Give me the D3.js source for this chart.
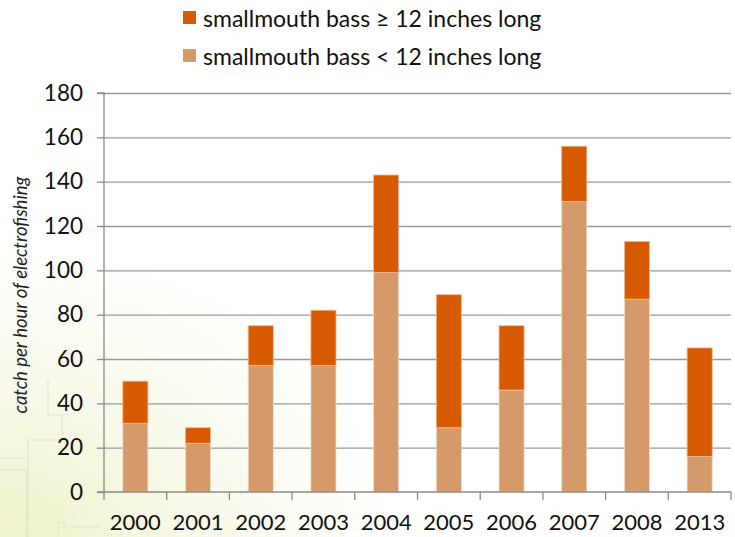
<!DOCTYPE html>
<html><head><meta charset="utf-8">
<script src="https://cdn.jsdelivr.net/npm/d3@7/dist/d3.min.js"></script>
<style>
html,body{margin:0;padding:0;background:#fff;}
svg{display:block;font-family:Lato,"Open Sans",sans-serif;}
</style></head>
<body><svg id="c" width="735" height="537"></svg>
<script>
const years = ["2000","2001","2002","2003","2004","2005","2006","2007","2008","2013"];
const small = [31, 22, 57, 57, 99, 29, 46, 131, 87, 16];
const total = [50, 29, 75, 82, 143, 89, 75, 156, 113, 65];
const large = total.map((t, i) => t - small[i]);
const yTicks = [0, 20, 40, 60, 80, 100, 120, 140, 160, 180];
const seriesNames = ["smallmouth bass \u2265 12 inches long", "smallmouth bass < 12 inches long"];
const colors = {large: "#D75A00", small: "#D59A69"};

const svg = d3.select("#c");
const defs = svg.append("defs");
const rg = defs.append("radialGradient").attr("id","bg").attr("cx","0").attr("cy","1").attr("r","0.55");
rg.append("stop").attr("offset","0").attr("stop-color","#eef2c8");
rg.append("stop").attr("offset","0.5").attr("stop-color","#f8f9ea");
rg.append("stop").attr("offset","1").attr("stop-color","#ffffff");
svg.append("rect").attr("width",735).attr("height",537).attr("fill","url(#bg)");
// faint map outline decoration
svg.append("path").attr("d","M0,458 H28 V440 H62 V415 H48 V380 M0,470 H27 V537 M28,458 V537 M58,537 V522 H64 V527 H100")
  .attr("fill","none").attr("stroke","#e2e6cf").attr("stroke-width",1.2);

const x0 = 104, x1 = 731, yTop = 93, yBot = 492;
const x = d3.scaleBand().domain(years).range([x0, x1]).paddingInner(0.6).paddingOuter(0.3);
const xb = d3.scaleBand().domain(years).range([x0, x1]);
const y = d3.scaleLinear().domain([0, 180]).range([yBot, yTop]);

// gridlines
svg.append("g").selectAll("line").data(yTicks.slice(1)).join("line")
  .attr("x1", x0).attr("x2", x1).attr("y1", d => y(d)+0.5).attr("y2", d => y(d)+0.5)
  .attr("stroke", "#9a9a9a").attr("stroke-width", 1.3);

// bars
const g = svg.append("g");
years.forEach((yr, i) => {
  g.append("rect").attr("x", x(yr)).attr("width", x.bandwidth())
    .attr("y", y(small[i])).attr("height", y(0) - y(small[i]))
    .attr("fill", colors.small).attr("stroke","#f3dccb").attr("stroke-width",0.8);
  g.append("rect").attr("x", x(yr)).attr("width", x.bandwidth())
    .attr("y", y(total[i])).attr("height", y(small[i]) - y(total[i]))
    .attr("fill", colors.large).attr("stroke","#f0b890").attr("stroke-width",0.8);
});

// y axis
const yAxis = d3.axisLeft(y).tickValues(yTicks).tickSize(7).tickPadding(14);
const ya = svg.append("g").attr("transform", `translate(${x0},0)`).call(yAxis);
ya.select(".domain").attr("stroke","#8a8a8a").attr("stroke-width",1.3).attr("d", `M-7,${yTop}H0V${yBot}H-7`);
ya.selectAll(".tick line").attr("stroke","#8a8a8a").attr("stroke-width",1.3);
ya.selectAll(".tick text").attr("font-size", 22.5).attr("fill","#111").attr("font-family","Lato");

// x axis
const xAxis = d3.axisBottom(xb).tickSize(0).tickPadding(22);
const xa = svg.append("g").attr("transform", `translate(0,${yBot})`).call(xAxis);
xa.select(".domain").attr("stroke","#8a8a8a").attr("stroke-width",1.3).attr("d", `M${x0},0H${x1}`);
xa.selectAll(".tick text").attr("font-size", 22).attr("fill","#111").attr("font-family","Lato");
svg.append("g").selectAll("line").data(years.concat(["end"])).join("line")
  .attr("x1", (d,i) => x0 + i*xb.step()).attr("x2", (d,i) => x0 + i*xb.step())
  .attr("y1", yBot).attr("y2", yBot + 8)
  .attr("stroke","#8a8a8a").attr("stroke-width",1.3);

// y title
svg.append("text").attr("transform","translate(27,295) rotate(-90)")
  .attr("text-anchor","middle").attr("font-style","italic").attr("font-size",18.5).attr("fill","#222")
  .text("catch per hour of electrofishing");

// legend
const leg = svg.append("g");
const legColors = [colors.large, colors.small];
seriesNames.forEach((n, i) => {
  leg.append("rect").attr("x",183).attr("y",11 + i*38).attr("width",13).attr("height",13).attr("fill",legColors[i]);
  leg.append("text").attr("x",203).attr("y",27 + i*38).attr("font-size",23).attr("fill","#111").text(n);
});
</script></body></html>
